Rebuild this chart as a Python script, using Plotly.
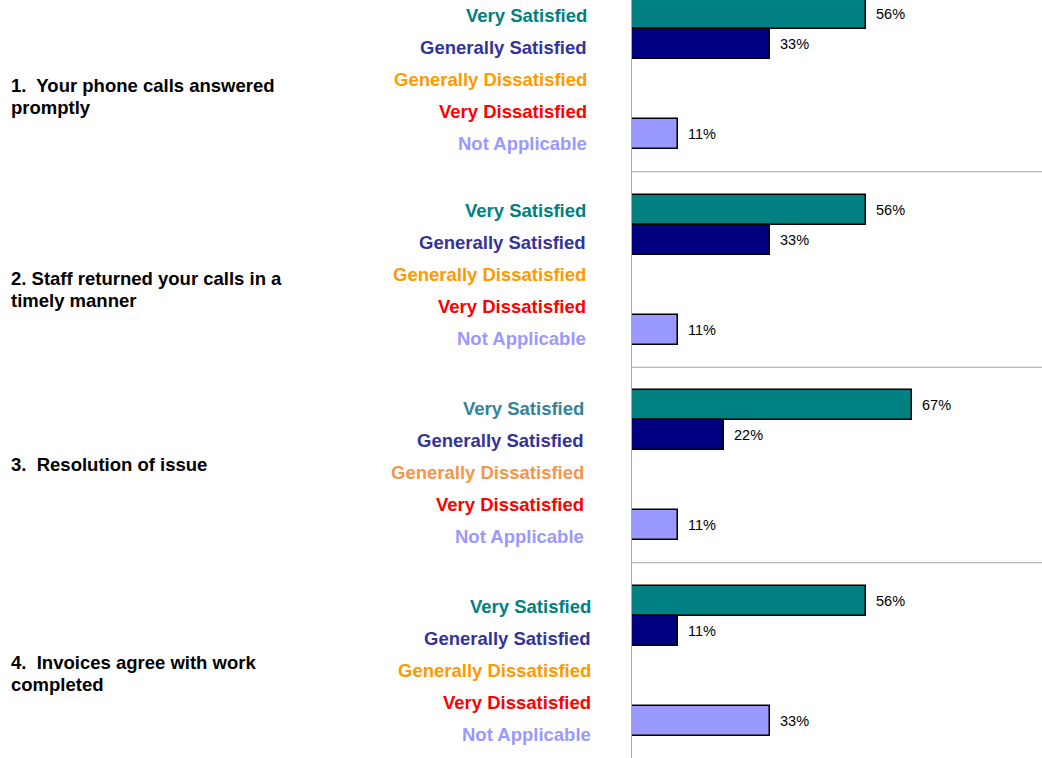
import plotly.graph_objects as go

# ---- data ----
questions = [
    ["1.  Your phone calls answered", "promptly"],
    ["2. Staff returned your calls in a", "timely manner"],
    ["3.  Resolution of issue"],
    ["4.  Invoices agree with work", "completed"],
]
categories = ["Very Satisfied", "Generally Satisfied", "Generally Dissatisfied",
              "Very Dissatisfied", "Not Applicable"]
q1_values = [56, 33, 0, 0, 11]
q2_values = [56, 33, 0, 0, 11]
q3_values = [67, 22, 0, 0, 11]
q4_values = [56, 11, 0, 0, 33]
all_values = [q1_values, q2_values, q3_values, q4_values]

# ---- styles ----
bar_colors = ["#008080", "#000080", "#FF9900", "#FF0000", "#9999FF"]
label_colors = ["#008080", "#333399", "#FF9900", "#FF0000", "#9999FF"]
label_colors_q3 = ["#31849B", "#333399", "#F79646", "#FF0000", "#9999FF"]
label_xshift = [-43, -44, -46, -39]
question_y = [96, 289, 464, 673.5]
QLINE = 22

PANEL_STEP = 195.5
BAR_STEP = 30
LABEL_STEP = 32
FIRST = 14
label_offset = [1, 0.5, 3, 5.5]

FONT = "Liberation Sans, Arial, sans-serif"

fig = go.Figure()

annotations = []
for ci, cat in enumerate(categories):
    ys, xs = [], []
    for pi, vals in enumerate(all_values):
        ys.append(FIRST + PANEL_STEP * pi + BAR_STEP * ci)
        xs.append(vals[ci])
    fig.add_trace(go.Bar(
        x=xs, y=ys, orientation="h", width=BAR_STEP,
        marker=dict(color=bar_colors[ci], line=dict(color="#000000", width=1.5)),
        showlegend=False, name=cat, hoverinfo="x+name",
    ))
    for x, y in zip(xs, ys):
        if x > 0:
            annotations.append(dict(
                x=x, xref="x", y=y, yref="y", text=f"{x}%", showarrow=False,
                xanchor="left", yanchor="middle", xshift=8,
                font=dict(family=FONT, size=14.5, color="#000000"),
            ))

for pi in range(len(all_values)):
    cols = label_colors_q3 if pi == 2 else label_colors
    base = FIRST + PANEL_STEP * pi + label_offset[pi]
    for ci, cat in enumerate(categories):
        annotations.append(dict(
            x=0, xref="paper", y=base + LABEL_STEP * ci, yref="y",
            text=f"<b>{cat}</b>", showarrow=False, xanchor="right", yanchor="middle",
            xshift=label_xshift[pi],
            font=dict(family=FONT, size=18.5, color=cols[ci]),
        ))
    lines = questions[pi]
    n = len(lines)
    for li, line in enumerate(lines):
        annotations.append(dict(
            x=0, xref="paper", y=question_y[pi] + (li - (n - 1) / 2) * QLINE, yref="y",
            text=f"<b>{line}</b>", showarrow=False, xanchor="left", yanchor="middle",
            align="left", xshift=-623,
            font=dict(family=FONT, size=18.5, color="#000000"),
        ))

shapes = []
for pi in range(len(all_values) - 1):
    last_bar = FIRST + PANEL_STEP * pi + BAR_STEP * (len(categories) - 1) + BAR_STEP / 2
    next_bar = FIRST + PANEL_STEP * (pi + 1) - BAR_STEP / 2
    ysep = (last_bar + next_bar) / 2
    shapes.append(dict(type="line", xref="paper", x0=0, x1=1, yref="y", y0=ysep, y1=ysep,
                       line=dict(color="#A6A6A6", width=1.2)))

fig.update_layout(
    width=1042, height=758,
    margin=dict(l=632, r=0, t=0, b=0),
    paper_bgcolor="white", plot_bgcolor="white",
    bargap=0,
    xaxis=dict(range=[0, 98], visible=False, showgrid=False, zeroline=False),
    yaxis=dict(range=[758, 0], showgrid=False, zeroline=False, showticklabels=False,
               ticks="", showline=True, linecolor="#A6A6A6", linewidth=1.2),
    annotations=annotations,
    shapes=shapes,
)

fig.write_html("out.html", config={"displayModeBar": False},
               post_script="document.body.style.margin='0';")
